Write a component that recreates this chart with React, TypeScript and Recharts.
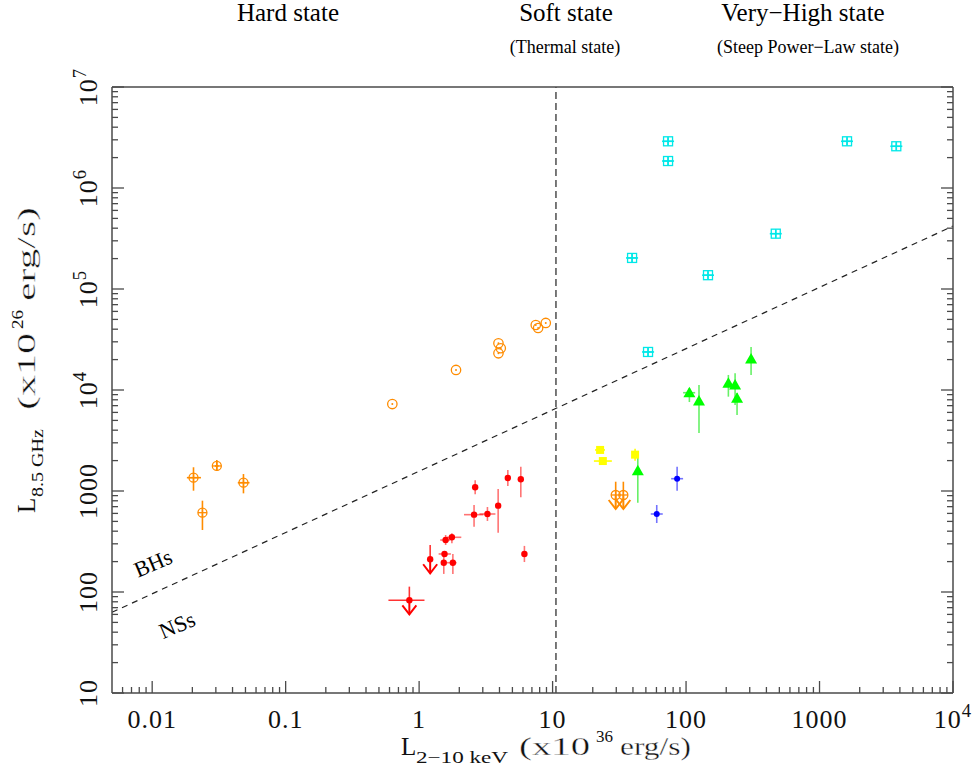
import React from 'react';
import { ScatterChart, Scatter, XAxis, YAxis, ErrorBar, ReferenceLine } from 'recharts';

const AXIS = '#4a4a4a';
const SERIF = '"Liberation Serif", "Times New Roman", serif';
const ORANGE = '#ff8c00';

// axes
const X_DOMAIN = [0.005, 10000];
const Y_DOMAIN = [10, 1e7];
const X_TICKS = [0.01, 0.1, 1, 10, 100, 1000, 10000];
const X_TICK_LABELS = ['0.01', '0.1', '1', '10', '100', '1000', '10^4'];
const Y_TICKS = [10, 100, 1000, 10000, 1e5, 1e6, 1e7];
const Y_TICK_LABELS = ['10', '100', '1000', '10^4', '10^5', '10^6', '10^7'];

// state boundary and BH/NS dividing line
const SOFT_EDGE = 10.6;
const BH_NS_LINE = [{ x: 0.005, y: 63 }, { x: 10000, y: 4.2e5 }];

// [x, y, xLow, xHigh, yLow, yHigh]
const BH_HARD_RINGS = [
  [0.63, 7260], [1.89, 15800], [3.93, 29000], [4.09, 25900],
  [3.93, 23100], [7.48, 44000], [7.79, 41100], [8.89, 46100],
];
const NS_HARD_RINGS = [
  [0.0204, 1355, 0.0182, 0.0232, 1007, 1718],
  [0.0305, 1770, 0.0295, 0.0315, 1589, 2028],
  [0.0483, 1208, 0.0438, 0.0536, 948, 1472],
  [0.0238, 610, 0.0238, 0.0238, 411, 802],
];
const NS_RING_LIMITS = [
  [29.7, 913, 29.7, 29.7, 913, 1236],
  [33.9, 913, 33.9, 33.9, 913, 1236],
];
const RED_HARD = [
  [1.53, 195, 1.53, 1.53, 151, 249],
  [1.79, 195, 1.61, 1.91, 151, 238],
  [1.55, 238, 1.4, 1.73, 238, 238],
  [1.58, 327, 1.44, 1.71, 292, 367],
  [1.76, 348, 1.61, 2.07, 303, 381],
  [2.58, 583, 2.17, 3.03, 443, 726],
  [2.63, 1088, 2.63, 2.63, 928, 1276],
  [3.25, 592, 2.83, 3.73, 505, 694],
  [3.91, 716, 3.91, 3.91, 386, 1048],
  [4.62, 1345, 4.62, 4.62, 1121, 1614],
  [5.78, 1306, 5.78, 5.78, 867, 1741],
  [6.15, 238, 6.15, 6.15, 198, 286],
];
const RED_LIMITS = [
  [0.845, 82.8, 0.589, 1.097, 82.8, 113],
  [1.21, 211, 1.21, 1.21, 211, 292],
];
const YELLOW = [
  [22.7, 2550, 20.8, 24.7, 2550, 2550],
  [23.8, 1980, 20.4, 27.8, 1980, 1980],
  [41.5, 2290, 41.5, 41.5, 1997, 2627],
];
const GREEN = [
  [43.5, 1590, 43.5, 43.5, 766, 2124],
  [105.9, 9400, 95, 117, 7600, 10470],
  [125, 7790, 125, 125, 3750, 11220],
  [207.5, 11650, 207.5, 207.5, 8590, 14090],
  [233, 11200, 233, 233, 7100, 14630],
  [241, 8280, 241, 241, 5650, 9330],
  [307, 20300, 307, 307, 14090, 26700],
];
const BLUE = [
  [85.7, 1324, 77.3, 95.0, 1007, 1741],
  [60.3, 592, 54.4, 66.9, 482, 727],
];
const CYAN = [
  [73.3, 2.9e6, 66.1, 81.3, 2.65e6, 3.18e6],
  [73.3, 1.85e6, 66.1, 81.3, 1.69e6, 2.03e6],
  [1607, 2.9e6, 1449, 1782, 2.65e6, 3.18e6],
  [3760, 2.59e6, 3390, 4170, 2.37e6, 2.84e6],
  [470, 3.53e5, 424, 521, 3.22e5, 3.87e5],
  [39.4, 2.03e5, 35.5, 43.7, 1.85e5, 2.22e5],
  [146, 1.37e5, 132, 162, 1.25e5, 1.5e5],
  [51.9, 2.38e4, 46.8, 57.6, 2.17e4, 2.61e4],
];

// minor ticks at 2..9 of every decade
function minors(from: number, to: number, lo: number, hi: number) {
  const out: number[] = [];
  for (let d = from; d < to; d *= 10) {
    for (let k = 2; k <= 9; k++) {
      const v = +(d * k).toPrecision(6);
      if (v > lo && v < hi) out.push(v);
    }
  }
  return out;
}
const X_ALL_TICKS = [...X_TICKS, ...minors(0.001, 10000, 0.005, 10000)].sort((a, b) => a - b);
const Y_ALL_TICKS = [...Y_TICKS, ...minors(10, 1e7, 10, 1e7)].sort((a, b) => a - b);

function rows(pts: number[][]) {
  return pts.map(([x, y, xl = x, xh = x, yl = y, yh = y]) => ({
    x,
    y,
    ex: [x - xl, xh - x],
    ey: [y - yl, yh - y],
  }));
}

function tickText(label: string, size: number) {
  const [base, exp] = label.split('^');
  if (!exp) return base;
  return [
    <tspan key="b">{base}</tspan>,
    <tspan key="e" dy={-11} fontSize={size * 0.72}>{exp}</tspan>,
  ];
}

const BottomTick = ({ x, y, payload }: any) => {
  const i = X_TICKS.indexOf(payload.value);
  return (
    <g>
      <line x1={x} y1={y} x2={x} y2={y - (i >= 0 ? 12 : 6)} stroke={AXIS} strokeWidth={1.3} />
      {i >= 0 && (
        <text x={x} y={y + 35} textAnchor="middle" fontFamily={SERIF} fontSize={26} letterSpacing={1} fill="#111">
          {tickText(X_TICK_LABELS[i], 26)}
        </text>
      )}
    </g>
  );
};

const TopTick = ({ x, y, payload }: any) => {
  const major = X_TICKS.includes(payload.value);
  return <line x1={x} y1={y} x2={x} y2={y + (major ? 12 : 6)} stroke={AXIS} strokeWidth={1.3} />;
};

const LeftTick = ({ x, y, payload }: any) => {
  const i = Y_TICKS.indexOf(payload.value);
  return (
    <g>
      <line x1={x} y1={y} x2={x + (i >= 0 ? 12 : 6)} y2={y} stroke={AXIS} strokeWidth={1.3} />
      {i >= 0 && (
        <text
          transform={`translate(${x - 15},${y}) rotate(-90)`}
          textAnchor="middle"
          fontFamily={SERIF}
          fontSize={26}
          letterSpacing={1}
          fill="#111"
        >
          {tickText(Y_TICK_LABELS[i], 26)}
        </text>
      )}
    </g>
  );
};

const RightTick = ({ x, y, payload }: any) => {
  const major = Y_TICKS.includes(payload.value);
  return <line x1={x} y1={y} x2={x - (major ? 12 : 6)} y2={y} stroke={AXIS} strokeWidth={1.3} />;
};

// marker shapes
const arrow = (cx: number, cy: number, color: string) => (
  <g stroke={color} strokeWidth={2} fill="none">
    <line x1={cx} y1={cy} x2={cx} y2={cy + 14} />
    <polyline points={`${cx - 7},${cy + 5} ${cx},${cy + 14} ${cx + 7},${cy + 5}`} />
  </g>
);

const RingDot = ({ cx, cy }: any) => (
  <g>
    <circle cx={cx} cy={cy} r={4.7} fill="none" stroke={ORANGE} strokeWidth={1.3} />
    <circle cx={cx} cy={cy} r={1} fill={ORANGE} />
  </g>
);

const RingCross = ({ cx, cy }: any) => (
  <g stroke={ORANGE} strokeWidth={1.3} fill="none">
    <circle cx={cx} cy={cy} r={4.5} />
    <line x1={cx - 4.5} y1={cy} x2={cx + 4.5} y2={cy} />
    <line x1={cx} y1={cy - 4.5} x2={cx} y2={cy + 4.5} />
  </g>
);

const RingCrossLimit = (p: any) => (
  <g>
    {arrow(p.cx, p.cy, ORANGE)}
    <RingCross {...p} />
  </g>
);

const RedDot = ({ cx, cy }: any) => <circle cx={cx} cy={cy} r={3.2} fill="#ff0000" />;

const RedLimit = ({ cx, cy }: any) => (
  <g>
    {arrow(cx, cy, '#ff0000')}
    <circle cx={cx} cy={cy} r={3.2} fill="#ff0000" />
  </g>
);

const YellowSquare = ({ cx, cy }: any) => <rect x={cx - 4} y={cy - 4} width={8} height={8} fill="#ffff00" />;

const GreenTriangle = ({ cx, cy }: any) => (
  <polygon points={`${cx},${cy - 6} ${cx - 6},${cy + 4.5} ${cx + 6},${cy + 4.5}`} fill="#00ff00" />
);

const BlueDot = ({ cx, cy }: any) => <circle cx={cx} cy={cy} r={3} fill="#0000ff" />;

const CyanBox = ({ cx, cy }: any) => (
  <g stroke="#00e8e8" strokeWidth={1.3} fill="none">
    <rect x={cx - 4.5} y={cy - 4.5} width={9} height={9} />
    <line x1={cx - 4.5} y1={cy} x2={cx + 4.5} y2={cy} />
    <line x1={cx} y1={cy - 4.5} x2={cx} y2={cy + 4.5} />
  </g>
);

const SERIES = [
  { key: 'bhRings', data: BH_HARD_RINGS, shape: RingDot, err: ORANGE },
  { key: 'nsRings', data: NS_HARD_RINGS, shape: RingCross, err: ORANGE },
  { key: 'nsLimits', data: NS_RING_LIMITS, shape: RingCrossLimit, err: ORANGE },
  { key: 'red', data: RED_HARD, shape: RedDot, err: 'rgba(255,0,0,0.55)' },
  { key: 'redLimits', data: RED_LIMITS, shape: RedLimit, err: 'rgba(255,0,0,0.8)' },
  { key: 'yellow', data: YELLOW, shape: YellowSquare, err: '#ffff00' },
  { key: 'green', data: GREEN, shape: GreenTriangle, err: 'rgba(0,230,0,0.6)' },
  { key: 'blue', data: BLUE, shape: BlueDot, err: 'rgba(0,0,255,0.55)' },
  { key: 'cyan', data: CYAN, shape: CyanBox, err: '#00e8e8' },
];

// the axis titles use a wide face: stretch the glyphs, thin the big ones with a white edge
const wide = { lengthAdjust: 'spacingAndGlyphs' } as const;
const thin = { stroke: '#fff', strokeWidth: 0.35 };

function Annotations() {
  return (
    <svg width={977} height={770} style={{ position: 'absolute', left: 0, top: 0, pointerEvents: 'none' }}>
      <g fontFamily={SERIF} fill="#000" textAnchor="middle">
        <text x={288} y={21} fontSize={25}>Hard state</text>
        <text x={566} y={21} fontSize={25}>Soft state</text>
        <text x={803} y={21} fontSize={25}>Very−High state</text>
        <text x={565} y={53} fontSize={18}>(Thermal state)</text>
        <text x={808} y={53} fontSize={18}>(Steep Power−Law state)</text>
        <text transform="translate(156,570) rotate(-23)" fontSize={22}>BHs</text>
        <text transform="translate(180,632) rotate(-23)" fontSize={22}>NSs</text>
      </g>
      <g fontFamily={SERIF} fill="#111">
        <text x={401} y={755} fontSize={25}>L</text>
        <text x={416} y={763} fontSize={16} {...wide} textLength={92}>2−10 keV</text>
        <text x={519} y={755} fontSize={25} {...wide} {...thin} textLength={71}>(x10</text>
        <text x={596} y={742} fontSize={17} {...wide} textLength={17}>36</text>
        <text x={620} y={755} fontSize={25} {...wide} {...thin} textLength={71}>erg/s)</text>
      </g>
      <g fontFamily={SERIF} fill="#111" transform="translate(35,513) rotate(-90)">
        <text x={0} y={0} fontSize={25}>L</text>
        <text x={16} y={8} fontSize={16} {...wide} textLength={68}>8.5 GHz</text>
        <text x={103} y={0} fontSize={25} {...wide} {...thin} textLength={77}>(x10</text>
        <text x={184} y={-12} fontSize={17} {...wide} textLength={19}>26</text>
        <text x={212} y={0} fontSize={25} {...wide} {...thin} textLength={94}>erg/s)</text>
      </g>
    </svg>
  );
}

export default function App() {
  return (
    <div style={{ position: 'absolute', left: 0, top: 0, width: 977, height: 770, background: '#fff' }}>
      <ScatterChart width={977} height={770} margin={{ top: 0, right: 0, bottom: 0, left: 0 }}>
        <XAxis
          xAxisId="b"
          orientation="bottom"
          type="number"
          dataKey="x"
          scale="log"
          domain={X_DOMAIN}
          allowDataOverflow
          ticks={X_ALL_TICKS}
          interval={0}
          tick={BottomTick}
          tickLine={false}
          tickSize={0}
          tickMargin={0}
          axisLine={{ stroke: AXIS, strokeWidth: 1.5 }}
          height={77}
        />
        <XAxis
          xAxisId="t"
          orientation="top"
          type="number"
          scale="log"
          domain={X_DOMAIN}
          allowDataOverflow
          ticks={X_ALL_TICKS}
          interval={0}
          tick={TopTick}
          tickLine={false}
          tickSize={0}
          tickMargin={0}
          axisLine={{ stroke: AXIS, strokeWidth: 1.5 }}
          height={87}
        />
        <YAxis
          yAxisId="l"
          orientation="left"
          type="number"
          dataKey="y"
          scale="log"
          domain={Y_DOMAIN}
          allowDataOverflow
          ticks={Y_ALL_TICKS}
          interval={0}
          tick={LeftTick}
          tickLine={false}
          tickSize={0}
          tickMargin={0}
          axisLine={{ stroke: AXIS, strokeWidth: 1.5 }}
          width={112}
        />
        <YAxis
          yAxisId="r"
          orientation="right"
          type="number"
          scale="log"
          domain={Y_DOMAIN}
          allowDataOverflow
          ticks={Y_ALL_TICKS}
          interval={0}
          tick={RightTick}
          tickLine={false}
          tickSize={0}
          tickMargin={0}
          axisLine={{ stroke: AXIS, strokeWidth: 1.5 }}
          width={24}
        />
        <ReferenceLine
          xAxisId="b"
          yAxisId="l"
          x={SOFT_EDGE}
          stroke="#222"
          strokeWidth={1.2}
          strokeDasharray="7 4"
        />
        <ReferenceLine
          xAxisId="b"
          yAxisId="l"
          segment={BH_NS_LINE}
          stroke="#222"
          strokeWidth={1.2}
          strokeDasharray="6 5"
          ifOverflow="visible"
        />
        {SERIES.map((s) => (
          <Scatter
            key={s.key}
            data={rows(s.data)}
            xAxisId="b"
            yAxisId="l"
            shape={s.shape}
            isAnimationActive={false}
          >
            <ErrorBar dataKey="ex" direction="x" width={0} stroke={s.err} strokeWidth={1.6} />
            <ErrorBar dataKey="ey" direction="y" width={0} stroke={s.err} strokeWidth={1.6} />
          </Scatter>
        ))}
      </ScatterChart>
      <Annotations />
    </div>
  );
}
